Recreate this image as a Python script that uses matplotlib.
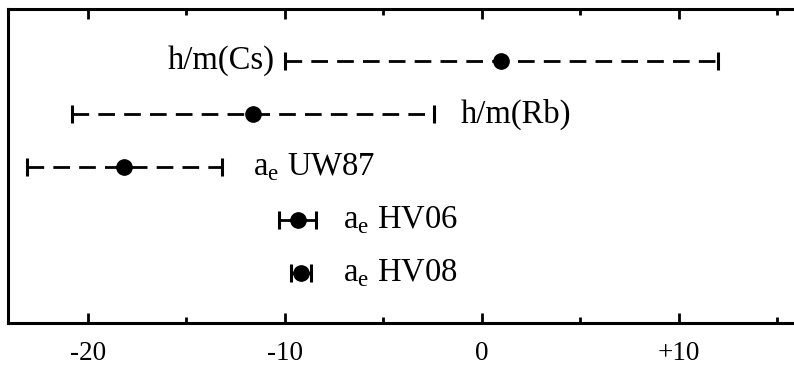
import numpy as np
import matplotlib.pyplot as plt
from matplotlib.ticker import MultipleLocator, FixedLocator

plt.rcParams['font.family'] = 'Liberation Serif'
plt.rcParams['mathtext.fontset'] = 'custom'
plt.rcParams['mathtext.rm'] = 'Liberation Serif'

# measurements (top to bottom)
labels = ['h/m(Cs)', 'h/m(Rb)', r'a$_\mathrm{e}$ UW87', r'a$_\mathrm{e}$ HV06', r'a$_\mathrm{e}$ HV08']
centers = [1.0, -11.6, -18.15, -9.34, -9.17]
errors = [11.0, 9.2, 4.95, 0.93, 0.52]
dashed = [True, True, True, False, False]

tick_vals = [-20, -10, 0, 10]
tick_text = ['-20', '-10', '0', '+10']

# label anchors (x in data units, alignment)
label_x = [-10.5, -1.05, -11.6, -7.05, -7.05]
label_ha = ['right', 'left', 'left', 'left', 'left']

fig = plt.figure(figsize=(7.94, 3.66), dpi=100)
ax = fig.add_axes([0.0101, 0.1167, 0.9936, 0.8587])

ypos = np.arange(len(labels))[::-1] + 1
for y, c, e, d, lab, lx, ha in zip(ypos, centers, errors, dashed, labels, label_x, label_ha):
    _, caps, bars = ax.errorbar(c, y, xerr=e, fmt='o', color='black', markersize=11,
                                elinewidth=2, capsize=6.5, capthick=2.2)
    if d:
        bars[0].set_linestyle((0, (6, 3.3)))
    ax.text(lx, y, lab, ha=ha, va='center', fontsize=23.5)

ax.set_xlim(-24.05, 16)
ax.set_ylim(0.06, 5.98)
ax.set_yticks([])
ax.xaxis.set_major_locator(FixedLocator(tick_vals))
ax.set_xticklabels(tick_text, fontsize=19.5)
ax.xaxis.set_minor_locator(MultipleLocator(5))
ax.tick_params(axis='x', which='both', direction='in', top=True, width=2, pad=13)
ax.tick_params(axis='x', which='major', length=7)
ax.tick_params(axis='x', which='minor', length=4)
for s in ['left', 'top', 'bottom']:
    ax.spines[s].set_linewidth(2.2)
ax.spines['right'].set_visible(False)

plt.savefig('out.png', dpi=100)
